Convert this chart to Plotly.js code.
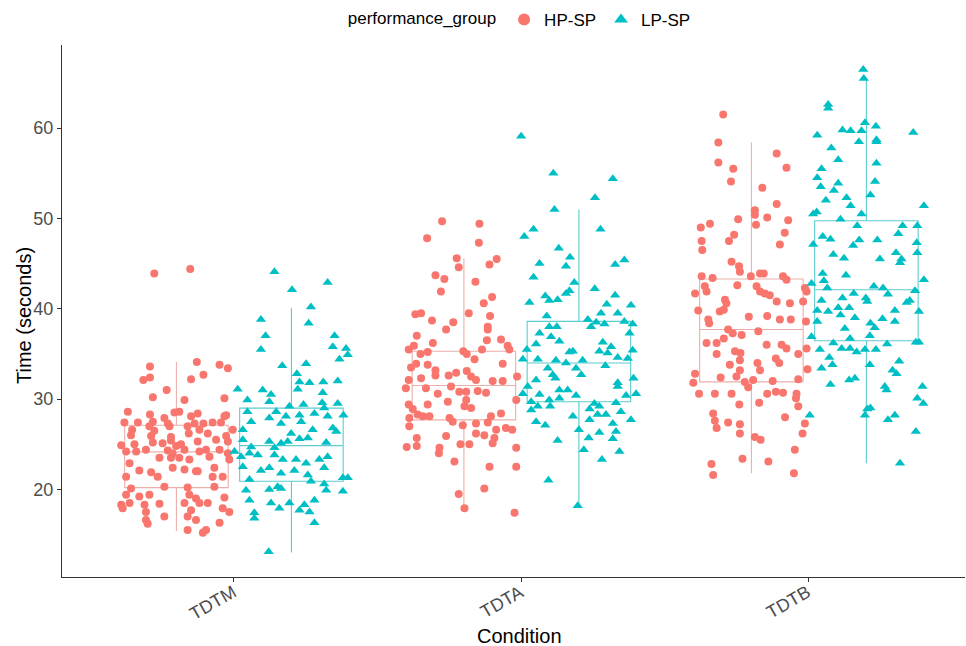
<!DOCTYPE html>
<html><head><meta charset="utf-8">
<script src="https://cdn.plot.ly/plotly-3.0.1.min.js"></script>
<style>html,body{margin:0;padding:0;background:#fff}#chart{width:966px;height:646px}</style>
</head><body><div id="chart"></div>
<script>
const conditions = ['TDTM', 'TDTA', 'TDTB'];
const groups = ['HP-SP', 'LP-SP'];

// Box statistics per condition (seconds)
const hpLower  = [15.4, 17.8, 21.8];
const hpQ1     = [20.2, 27.7, 31.9];
const hpMedian = [24.15, 31.5, 37.7];
const hpQ3     = [27.1, 35.3, 43.3];
const hpUpper  = [34.1, 45.6, 58.4];

const lpLower  = [13.0, 18.1, 22.9];
const lpQ1     = [20.9, 29.7, 36.45];
const lpMedian = [24.85, 34.0, 42.1];
const lpQ3     = [29.0, 38.6, 49.75];
const lpUpper  = [40.1, 51.0, 65.5];

// Individual observations (seconds) and their horizontal jitter (category units)
const hpTDTM_time = [43.9,44.4,34.1,33.6,33.8,33.4,32.7,32.4,32.1,32.2,
31.0,30.2,29.9,30.1,28.6,28.5,28.6,28.4,28.3,27.9,
28.1,28.2,27.4,27.4,27.5,27.3,28.1,27.3,27.3,27.4,
27.4,26.6,27.0,26.5,27.0,27.0,26.6,26.6,26.0,25.9,
25.8,26.2,26.2,25.9,24.9,25.0,25.2,25.1,25.4,24.8,
25.0,25.3,25.5,25.3,24.2,24.2,24.4,24.3,24.0,24.4,
24.2,24.4,24.4,24.0,22.9,23.5,23.5,23.5,23.3,23.6,
23.3,22.1,21.9,22.4,22.2,22.0,22.4,21.4,21.4,22.0,
21.4,21.4,20.1,20.3,20.2,20.3,19.4,19.2,19.4,19.4,
19.0,19.1,18.3,18.5,18.3,18.4,18.5,18.5,18.5,17.9,
17.5,17.7,17.9,17.5,16.6,17.0,17.0,16.6,16.2,16.3,
15.5,15.5,15.2];
const hpTDTM_jitter = [-0.077,0.048,0.071,-0.092,0.150,0.179,0.094,-0.092,-0.115,0.051,
-0.034,-0.082,0.028,0.167,-0.169,-0.007,0.010,0.074,-0.092,-0.042,
0.167,0.173,-0.181,-0.134,-0.082,-0.030,0.051,0.063,0.094,0.126,
0.155,-0.154,-0.094,-0.077,-0.024,0.039,0.080,0.196,-0.158,-0.088,
-0.019,0.043,0.109,0.173,-0.192,-0.146,-0.082,-0.048,-0.019,-0.001,
0.016,0.074,0.138,0.179,-0.175,-0.140,-0.106,-0.030,-0.013,0.028,
0.080,0.103,0.150,0.179,-0.163,-0.059,-0.019,0.010,0.045,0.115,
0.184,-0.129,-0.088,-0.013,0.028,0.068,0.132,-0.175,-0.065,0.074,
0.126,0.161,-0.158,-0.042,0.039,0.132,-0.175,-0.129,-0.094,0.045,
0.068,0.167,-0.192,-0.163,-0.111,-0.059,0.028,0.080,0.109,-0.187,
-0.106,0.051,0.161,0.184,-0.106,-0.042,0.039,0.068,-0.100,0.150,
0.039,0.103,0.092];

const lpTDTM_time = [44.1,42.9,42.1,40.2,38.8,38.4,37.0,37.0,35.8,35.6,
35.5,34.4,34.9,33.7,33.9,32.8,31.9,31.8,31.9,32.0,
31.1,31.0,31.1,30.7,29.9,30.5,29.7,29.2,29.4,29.6,
29.5,29.0,28.6,28.6,28.1,28.2,28.4,28.1,28.2,27.5,
26.6,27.9,27.3,27.5,26.6,26.8,26.4,25.5,26.2,25.6,
25.7,25.3,25.1,25.3,24.7,24.6,25.2,24.2,23.6,24.0,
23.8,23.8,23.3,23.3,22.9,23.3,23.6,22.5,22.1,22.4,
21.8,22.1,21.6,22.4,21.1,20.9,20.6,19.9,21.3,21.3,
19.9,20.0,20.3,20.1,19.8,18.8,18.5,18.8,17.9,18.5,
17.7,18.3,17.5,17.4,16.8,16.3,13.1];
const lpTDTM_jitter = [-0.059,0.126,0.002,0.068,-0.106,0.060,-0.090,0.150,0.144,0.190,
-0.106,0.167,0.196,-0.032,0.051,0.019,0.028,0.063,0.111,0.161,
-0.187,-0.100,0.022,0.109,-0.153,-0.071,-0.077,-0.007,0.042,0.107,
0.161,0.114,-0.153,-0.053,-0.019,0.028,0.080,0.126,0.181,-0.140,
-0.169,-0.077,-0.036,0.034,0.074,0.144,0.156,-0.169,-0.001,0.028,
0.057,-0.077,-0.036,-0.013,-0.140,-0.059,0.121,-0.198,-0.175,-0.146,
-0.117,-0.059,-0.030,0.016,0.051,0.097,0.126,-0.169,-0.106,-0.077,
-0.036,0.010,0.057,0.114,-0.146,0.068,0.114,0.121,0.179,0.196,
-0.158,-0.077,-0.048,-0.036,0.179,-0.146,-0.071,0.080,-0.042,-0.007,
0.028,0.045,0.063,-0.129,-0.129,0.080,-0.079];

const hpTDTA_time = [49.7,49.4,47.8,47.3,45.6,44.6,44.9,45.5,43.7,43.3,
43.0,41.9,40.6,41.3,39.4,39.5,39.5,38.7,39.2,38.5,
37.7,38.0,37.7,37.0,36.5,36.6,36.2,35.9,35.5,35.3,
35.5,35.9,35.0,35.2,35.0,34.4,33.5,33.9,33.8,33.9,
33.2,32.6,32.6,32.9,33.1,32.5,32.1,32.3,32.1,32.0,
32.0,31.2,31.2,31.4,30.8,30.8,30.9,30.7,30.6,29.7,
29.9,29.4,29.4,29.2,29.0,28.9,28.3,28.1,28.1,27.9,
27.9,27.5,27.1,27.3,27.4,28.1,28.4,26.8,27.0,26.6,
26.2,26.0,25.9,25.7,25.7,25.1,24.7,24.8,24.6,24.0,
25.0,25.0,23.1,22.5,20.1,19.5,17.9,
17.4,22.5,24.6,32.5,29.9,26.6,35.5];
const hpTDTA_jitter = [-0.076,0.054,-0.128,0.052,-0.025,-0.018,0.089,0.114,-0.099,-0.068,
0.040,-0.080,0.069,0.098,-0.169,-0.149,0.017,-0.111,0.091,-0.037,
-0.062,0.083,0.083,-0.164,0.080,0.129,-0.108,-0.174,-0.192,-0.002,
0.063,0.152,-0.151,-0.126,0.010,0.037,-0.184,-0.166,-0.126,0.135,
-0.099,-0.099,-0.053,-0.027,0.010,0.025,0.042,-0.149,-0.192,0.100,
0.135,-0.202,-0.132,-0.045,-0.016,0.008,0.048,0.077,-0.091,-0.056,
0.008,-0.192,-0.126,0.002,0.025,-0.178,-0.161,-0.143,-0.120,-0.190,
-0.050,-0.039,-0.004,0.042,0.083,0.094,0.129,0.146,-0.190,0.112,
0.042,0.071,-0.062,0.106,-0.164,0.100,-0.199,-0.164,-0.085,-0.087,
-0.012,0.019,-0.033,0.089,0.071,-0.018,0.002,
0.176,0.182,0.182,0.185,0.182,0.168,0.158];

const lpTDTA_time = [59.1,55.0,54.4,52.3,51.0,48.8,48.8,48.0,46.7,45.7,
45.0,44.7,44.9,45.4,43.5,42.9,42.0,41.7,42.2,41.4,
40.9,41.0,41.5,40.7,40.5,40.4,39.5,39.5,39.2,38.8,
38.6,38.3,38.5,38.3,38.0,38.0,37.3,38.0,37.3,36.9,
36.1,36.4,36.3,35.8,35.5,35.4,35.2,35.3,35.3,35.1,
34.4,34.4,34.3,34.0,34.3,34.6,34.5,33.7,33.4,33.4,
32.7,32.3,32.7,32.1,32.3,31.8,31.4,31.4,30.6,30.5,
31.0,31.0,30.4,30.4,30.6,29.9,29.7,30.1,29.5,29.6,
29.2,29.2,28.8,28.9,29.2,28.3,28.6,28.1,27.7,27.5,
28.3,27.7,27.3,27.1,26.6,26.3,26.4,25.7,25.4,25.6,
24.4,24.2,23.3,21.0,18.2];
const lpTDTA_jitter = [-0.201,-0.089,0.118,0.056,-0.085,0.075,-0.158,-0.190,-0.070,-0.031,
-0.137,-0.045,0.126,0.158,-0.158,-0.016,-0.033,-0.045,0.055,-0.117,
-0.103,-0.074,0.126,-0.172,0.097,0.181,0.135,0.077,-0.112,0.031,
0.158,0.187,0.060,0.089,0.042,-0.103,-0.137,-0.077,0.176,-0.097,
-0.149,-0.068,0.083,0.112,-0.181,0.187,-0.033,-0.021,0.071,0.100,
-0.195,-0.143,-0.080,-0.045,0.013,0.135,0.170,0.092,-0.108,-0.010,
-0.091,-0.082,0.008,-0.149,0.190,0.135,0.135,-0.178,-0.195,-0.137,
-0.068,-0.039,-0.010,0.164,0.199,-0.103,-0.166,-0.068,0.054,0.129,
-0.143,-0.100,-0.166,0.037,0.071,0.065,0.146,-0.021,0.037,-0.149,
0.094,0.181,0.118,-0.117,0.000,0.071,0.129,0.034,-0.074,0.118,
0.017,0.141,0.080,-0.106,-0.004];

const hpTDTB_time = [61.5,58.4,57.2,56.2,55.5,55.6,54.1,53.4,51.6,50.9,
50.4,49.3,50.1,49.9,49.8,49.4,49.0,48.4,48.2,47.5,
47.5,46.5,47.1,45.2,44.7,44.1,43.6,43.4,43.6,43.9,
43.9,43.6,43.2,42.6,42.5,41.7,42.5,41.9,41.7,41.5,
41.9,42.3,41.9,41.0,40.6,40.8,40.6,40.8,39.8,39.7,
39.9,39.1,39.2,38.8,38.8,38.8,38.4,38.6,37.7,37.3,
37.5,36.7,36.2,36.2,37.1,36.0,35.6,35.6,35.0,35.3,
35.1,36.0,35.0,33.8,34.3,34.0,34.5,34.0,33.2,33.2,
33.3,32.8,32.4,32.5,31.9,32.1,31.8,32.0,32.2,31.3,
30.6,30.6,30.6,30.6,30.8,30.7,30.6,30.1,29.6,29.4,
29.2,28.4,27.6,26.8,27.4,27.2,28.0,26.2,27.3,26.2,
25.8,25.5,24.4,23.4,23.1,22.8,21.6,21.8];
const hpTDTB_jitter = [-0.098,-0.115,0.088,-0.115,-0.063,0.122,-0.071,0.038,0.088,0.012,
0.012,0.016,0.055,-0.046,0.128,-0.144,-0.176,0.116,-0.060,-0.078,
-0.173,-0.171,0.099,-0.069,-0.043,-0.040,-0.173,-0.135,-0.002,0.030,
0.043,0.110,0.122,-0.049,-0.162,-0.196,0.018,0.030,0.047,0.064,
0.192,0.186,-0.156,-0.092,-0.087,0.088,0.134,0.180,-0.185,-0.110,
-0.096,-0.009,0.055,0.099,0.137,-0.150,-0.147,0.190,-0.081,-0.065,
0.024,-0.096,-0.121,-0.156,-0.034,0.105,0.122,0.192,-0.121,-0.057,
-0.038,0.053,0.163,-0.075,-0.040,0.021,0.085,0.097,0.030,-0.040,
0.195,-0.196,-0.107,-0.052,-0.023,0.006,-0.202,0.074,0.163,-0.011,
-0.182,-0.127,-0.069,0.055,0.085,0.110,0.157,0.155,0.027,-0.042,
0.163,-0.133,-0.127,-0.121,-0.081,-0.040,0.117,-0.040,0.186,0.178,
0.012,0.032,0.151,-0.031,0.059,-0.139,-0.133,0.148];

const lpTDTB_time = [66.5,65.5,62.6,62.2,59.2,59.8,59.7,59.7,60.6,60.2,
58.7,58.5,58.5,59.5,57.8,56.5,56.1,55.5,54.5,53.9,
53.5,53.1,54.1,52.0,52.3,51.4,52.6,51.4,50.5,50.7,
50.5,49.9,49.2,49.2,49.2,48.0,47.7,47.6,47.6,48.3,
47.0,47.1,47.3,46.0,45.6,46.2,45.5,46.2,45.5,45.1,
43.7,43.9,42.8,43.1,42.3,42.5,42.3,41.6,41.7,41.2,
41.2,40.8,40.7,40.9,42.0,43.2,40.9,39.8,39.7,40.1,
40.1,39.3,39.0,38.9,39.8,39.7,38.6,37.8,38.4,37.9,
38.6,37.0,36.9,36.7,36.2,35.6,35.6,35.2,35.5,35.5,
36.1,36.3,36.3,35.5,34.6,33.8,33.4,33.8,34.2,33.2,
32.8,32.1,32.3,31.6,31.4,31.0,31.4,30.1,29.5,28.9,
29.0,28.2,28.2,28.2,27.7,26.4,22.9];
const lpTDTB_jitter = [-0.011,-0.009,-0.133,-0.133,-0.171,-0.083,-0.055,-0.017,-0.005,0.033,
0.035,0.035,-0.026,0.163,-0.122,-0.098,0.035,-0.156,-0.171,-0.098,
-0.159,-0.113,0.030,-0.141,-0.069,-0.055,0.014,0.200,-0.185,-0.173,
-0.017,-0.090,-0.032,0.126,0.177,-0.152,-0.125,-0.025,0.038,0.111,
-0.046,-0.185,0.175,-0.115,-0.078,0.103,0.122,0.177,0.047,0.117,
-0.071,-0.152,-0.191,-0.148,-0.136,0.026,0.058,0.075,-0.044,-0.083,
-0.002,0.003,0.140,0.151,0.169,0.200,-0.156,-0.171,-0.133,-0.098,
-0.060,-0.090,-0.040,0.056,0.099,0.183,-0.171,-0.075,0.014,0.029,
0.099,0.012,-0.191,-0.057,-0.115,-0.086,-0.057,-0.034,-0.005,0.033,
0.072,0.172,0.183,-0.162,-0.129,-0.118,-0.156,0.012,0.114,0.091,
0.105,-0.060,-0.040,-0.125,0.064,0.070,0.195,0.177,0.198,0.003,
0.014,-0.005,-0.197,0.099,0.075,0.172,0.117];

const colors = {'HP-SP': '#F8766D', 'LP-SP': '#00BFC4'};
const boxLine = {'HP-SP': '#EBAFAA', 'LP-SP': '#5CCCCF'};
const symbols = {'HP-SP': 'circle', 'LP-SP': 'triangle-up'};
const sizes = {'HP-SP': 8, 'LP-SP': 9};
const dodge = {'HP-SP': -0.2, 'LP-SP': 0.2};

const stats = {
  'HP-SP': {lo: hpLower, q1: hpQ1, med: hpMedian, q3: hpQ3, hi: hpUpper},
  'LP-SP': {lo: lpLower, q1: lpQ1, med: lpMedian, q3: lpQ3, hi: lpUpper}
};
const obs = {
  'HP-SP': [[hpTDTM_time, hpTDTM_jitter], [hpTDTA_time, hpTDTA_jitter], [hpTDTB_time, hpTDTB_jitter]],
  'LP-SP': [[lpTDTM_time, lpTDTM_jitter], [lpTDTA_time, lpTDTA_jitter], [lpTDTB_time, lpTDTB_jitter]]
};

const traces = [];
groups.forEach(g => {
  const s = stats[g];
  traces.push({
    type: 'box',
    name: g,
    x: conditions.map((c, i) => i + 1 + dodge[g]),
    q1: s.q1, median: s.med, q3: s.q3, lowerfence: s.lo, upperfence: s.hi,
    width: 0.36,
    whiskerwidth: 0,
    boxpoints: false,
    line: {color: boxLine[g], width: 1.1},
    fillcolor: 'rgba(255,255,255,0)',
    showlegend: false,
    hoverinfo: 'skip'
  });
});
groups.forEach(g => {
  const xs = [], ys = [];
  obs[g].forEach((pair, i) => {
    const t = pair[0], j = pair[1];
    const n = Math.min(t.length, j.length);
    for (let k = 0; k < n; k++) {
      xs.push(i + 1 + dodge[g] + j[k]);
      ys.push(t[k]);
    }
  });
  traces.push({
    type: 'scatter', mode: 'markers', name: g,
    x: xs, y: ys,
    marker: {color: colors[g], symbol: symbols[g], size: sizes[g], line: {width: 0}},
    showlegend: true
  });
});

const FONT = 'Liberation Sans, Arial, sans-serif';
const tickFont = {family: FONT, size: 18, color: '#4D4D4D'};
const titleFont = {family: FONT, size: 20, color: '#000'};

// Category labels, rotated 30 degrees, right end near the tick
const catLabels = conditions.map((c, i) => ({
  text: c, xref: 'x', yref: 'paper', x: i + 1, y: 0,
  xshift: 8, yshift: -2, textangle: -30,
  xanchor: 'right', yanchor: 'top', showarrow: false, font: tickFont
}));

const layout = {
  width: 966, height: 646,
  margin: {l: 62, r: 1, t: 45, b: 69},
  paper_bgcolor: '#fff', plot_bgcolor: '#fff',
  font: {family: FONT},
  xaxis: {
    range: [0.402, 3.543],
    tickvals: [1, 2, 3], ticktext: conditions,
    showticklabels: false,
    showgrid: false, zeroline: false,
    showline: true, linecolor: '#333', linewidth: 1,
    ticks: 'outside', ticklen: 4, tickcolor: '#333'
  },
  yaxis: {
    range: [10.3, 69.2],
    tickvals: [20, 30, 40, 50, 60],
    showgrid: false, zeroline: false,
    showline: true, linecolor: '#333', linewidth: 1,
    ticks: 'outside', ticklen: 4, tickcolor: '#333',
    tickfont: tickFont
  },
  annotations: catLabels.concat([
    {text: 'Condition', xref: 'paper', yref: 'paper', x: 0.507, y: 0, yshift: -59,
     xanchor: 'center', yanchor: 'middle', showarrow: false, font: titleFont},
    {text: 'Time (seconds)', xref: 'paper', yref: 'paper', x: 0, xshift: -38, y: 0.5, yshift: -5,
     textangle: -90, xanchor: 'center', yanchor: 'middle', showarrow: false, font: titleFont}
  ]),
  showlegend: true,
  legend: {
    orientation: 'h', x: 0.508, xanchor: 'center', y: 1.047, yanchor: 'middle',
    title: {text: 'performance_group', side: 'left', font: {size: 17, color: '#000'}},
    font: {size: 17, color: '#000'},
    itemsizing: 'constant', tracegroupgap: 0
  }
};

Plotly.newPlot('chart', traces, layout, {displayModeBar: false, staticPlot: true});
</script>
</body></html>
